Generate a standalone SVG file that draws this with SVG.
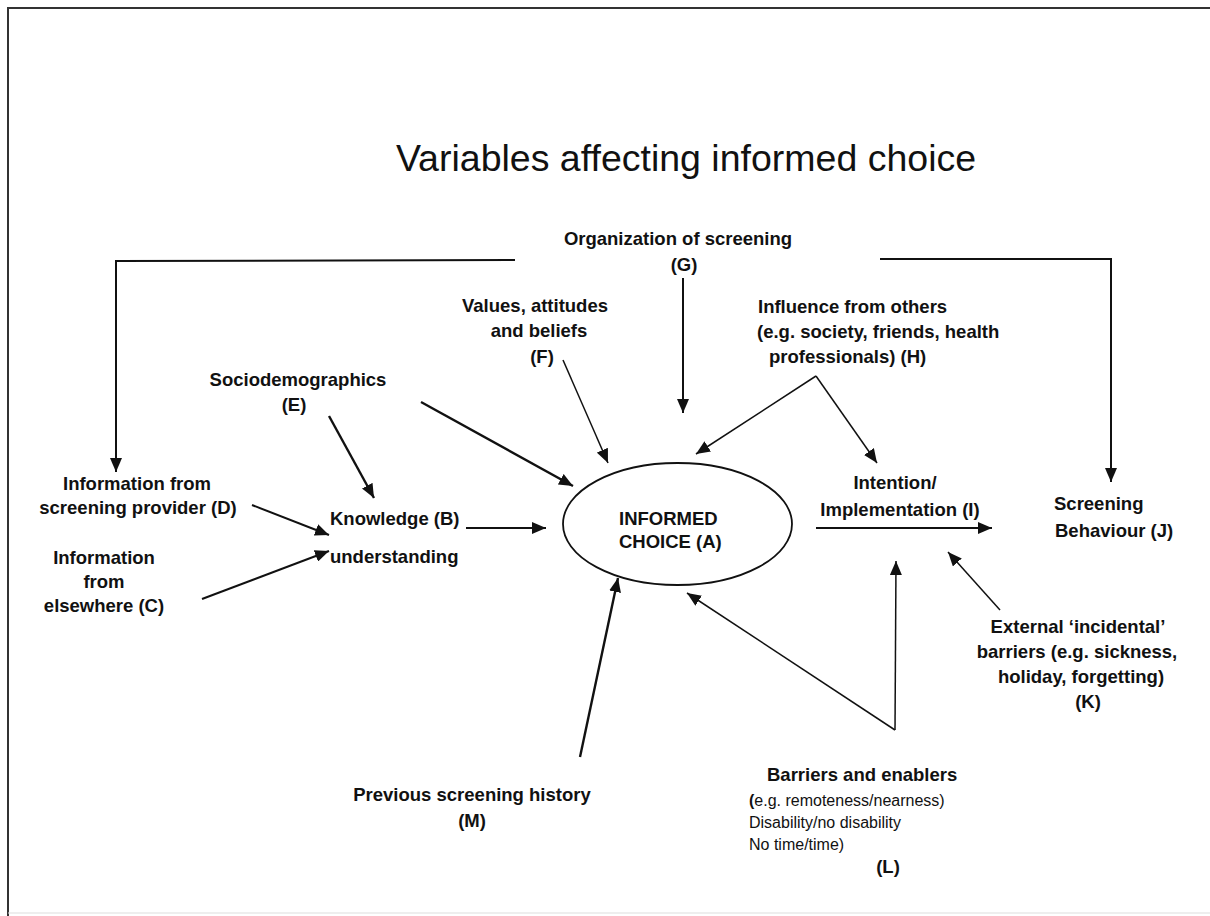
<svg xmlns="http://www.w3.org/2000/svg" width="1210" height="916" viewBox="0 0 1210 916">
<defs>
<marker id="ah" markerUnits="userSpaceOnUse" markerWidth="14" markerHeight="12" refX="14" refY="6" orient="auto">
<path d="M0,0 L14,6 L0,12 z" fill="#111"/>
</marker>
<style>
text{font-family:"Liberation Sans",Arial,sans-serif;fill:#111}
.b{font-weight:bold;font-size:18.5px}
.r{font-size:16px}
.c{text-anchor:middle}
.ln{fill:none;stroke:#111;stroke-width:2}
.th{stroke-width:1.5}
.tk{stroke-width:2.4}
</style>
</defs>
<rect width="1210" height="916" fill="#fff"/>
<g id="frame">
<path d="M8,916 V8 H1210" fill="none" stroke="#333" stroke-width="2"/>
<line x1="8" y1="913" x2="1210" y2="913" stroke="#ddd" stroke-width="1"/>
</g>
<g id="title"><text x="686" y="171" class="c" font-size="37.5">Variables affecting informed choice</text></g>

<g id="connectors">
<polyline class="ln" points="515,260 116,261 116,472" marker-end="url(#ah)"/>
<polyline class="ln" points="880,259 1111,259 1111,482" marker-end="url(#ah)"/>
<line class="ln" x1="683" y1="278" x2="683" y2="413" marker-end="url(#ah)"/>
<line class="ln th" x1="563" y1="360" x2="608" y2="463" marker-end="url(#ah)"/>
<line class="ln tk" x1="421" y1="402" x2="573" y2="486" marker-end="url(#ah)"/>
<line class="ln tk" x1="329" y1="416" x2="374" y2="498" marker-end="url(#ah)"/>
<line class="ln th" x1="816" y1="376" x2="696" y2="454" marker-end="url(#ah)"/>
<line class="ln th" x1="816" y1="376" x2="877" y2="463" marker-end="url(#ah)"/>
<line class="ln" x1="252" y1="505" x2="329" y2="535" marker-end="url(#ah)"/>
<line class="ln" x1="202" y1="599" x2="329" y2="551" marker-end="url(#ah)"/>
<line class="ln" x1="466" y1="528" x2="546" y2="528" marker-end="url(#ah)"/>
<line class="ln" x1="816" y1="528" x2="992" y2="528" marker-end="url(#ah)"/>
<line class="ln tk" x1="580" y1="757" x2="618" y2="578" marker-end="url(#ah)"/>
<line class="ln th" x1="895" y1="730" x2="687" y2="593" marker-end="url(#ah)"/>
<line class="ln th" x1="895" y1="730" x2="896" y2="561" marker-end="url(#ah)"/>
<line class="ln th" x1="1000" y1="610" x2="948" y2="552" marker-end="url(#ah)"/>
</g>

<g id="nodeA">
<ellipse cx="677.5" cy="524" rx="114.5" ry="61" fill="none" stroke="#111" stroke-width="1.8"/>
<text class="b" x="619" y="525">INFORMED</text>
<text class="b" x="619" y="548">CHOICE (A)</text>
</g>
<g id="nodeB">
<text class="b" x="330" y="525">Knowledge (B)</text>
<text class="b" x="330" y="563">understanding</text>
</g>
<g id="nodeC">
<text class="b c" x="104" y="564">Information</text>
<text class="b c" x="104" y="588">from</text>
<text class="b c" x="104" y="612">elsewhere (C)</text>
</g>
<g id="nodeD">
<text class="b c" x="137" y="490">Information from</text>
<text class="b c" x="138" y="514">screening provider (D)</text>
</g>
<g id="nodeE">
<text class="b c" x="298" y="386">Sociodemographics</text>
<text class="b c" x="294" y="411">(E)</text>
</g>
<g id="nodeF">
<text class="b c" x="535" y="312">Values, attitudes</text>
<text class="b c" x="539" y="337">and beliefs</text>
<text class="b c" x="542" y="363">(F)</text>
</g>
<g id="nodeG">
<text class="b c" x="678" y="245">Organization of screening</text>
<text class="b c" x="684" y="271">(G)</text>
</g>
<g id="nodeH">
<text class="b" x="758" y="313">Influence from others</text>
<text class="b" x="757" y="338">(e.g. society, friends, health</text>
<text class="b" x="769" y="363">professionals) (H)</text>
</g>
<g id="nodeI">
<text class="b c" x="895" y="489">Intention/</text>
<text class="b c" x="900" y="516">Implementation (I)</text>
</g>
<g id="nodeJ">
<text class="b" x="1054" y="510">Screening</text>
<text class="b" x="1055" y="537">Behaviour (J)</text>
</g>
<g id="nodeK">
<text class="b c" x="1078" y="633">External ‘incidental’</text>
<text class="b c" x="1077" y="658">barriers (e.g. sickness,</text>
<text class="b c" x="1081" y="683">holiday, forgetting)</text>
<text class="b c" x="1088" y="708">(K)</text>
</g>
<g id="nodeL">
<text class="b" x="767" y="781" font-size="18">Barriers and enablers</text>
<text class="r" x="749" y="806"><tspan font-weight="bold">(</tspan>e.g. remoteness/nearness)</text>
<text class="r" x="749" y="828">Disability/no disability</text>
<text class="r" x="749" y="850">No time/time)</text>
<text class="b c" x="888" y="873">(L)</text>
</g>
<g id="nodeM">
<text class="b c" x="472" y="801">Previous screening history</text>
<text class="b c" x="472" y="827">(M)</text>
</g>
</svg>
